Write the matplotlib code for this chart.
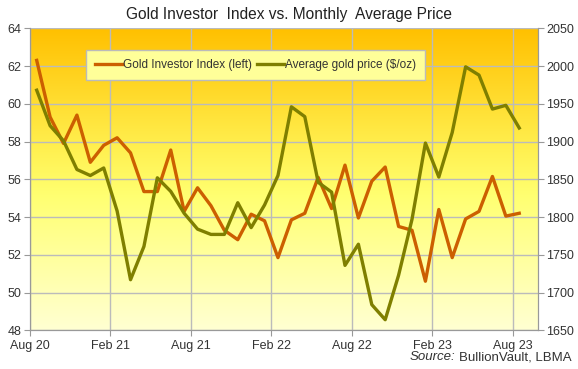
import numpy as np
import matplotlib
matplotlib.use("Agg")
import matplotlib.pyplot as plt
from matplotlib.colors import LinearSegmentedColormap

plt.rcParams["font.family"] = ["Liberation Sans", "DejaVu Sans"]

months = ["Aug 20", "Feb 21", "Aug 21", "Feb 22", "Aug 22", "Feb 23", "Aug 23"]
investor_index = [62.3, 59.3, 57.9, 59.4, 56.9, 57.8, 58.2, 57.4, 55.35, 55.35,
                  57.55, 54.3, 55.55, 54.6, 53.3, 52.8, 54.15, 53.8, 51.85, 53.85,
                  54.2, 56.1, 54.45, 56.75, 53.95, 55.9, 56.65, 53.5, 53.3, 50.6,
                  54.4, 51.85, 53.9, 54.3, 56.15, 54.05, 54.2]
gold_price = [1968, 1921, 1901, 1863, 1855, 1865, 1808, 1717, 1761, 1852,
              1834, 1805, 1784, 1777, 1777, 1819, 1786, 1816, 1855, 1946,
              1933, 1846, 1833, 1736, 1764, 1684, 1664, 1723, 1797, 1898,
              1853, 1912, 1999, 1988, 1943, 1948, 1918]

fig = plt.figure(figsize=(5.78, 3.69), dpi=100)
ax = fig.add_axes([30/578, 1-330.3/369, 508/578, 302/369])

x = np.arange(len(investor_index)) + 0.5

# gradient background
cmap = LinearSegmentedColormap.from_list("bg", [(0.0, "#FFFFD2"), (0.45, "#FFFF70"),
                                                  (0.6, "#FFF050"), (1.0, "#FFC000")])
grad = np.linspace(0, 1, 256).reshape(-1, 1)
ax.imshow(grad, cmap=cmap, aspect="auto", extent=[0, 1, 0, 1], origin="lower",
          transform=ax.transAxes, zorder=0)

ax.set_xlim(0, 37.9)
ax.set_ylim(48, 64)
ax.set_yticks(np.arange(48, 65, 2))
ax.set_xticks(np.arange(0, 37, 6))
ax.set_xticklabels(months)
ax.grid(True, color="#BBBBBB", linewidth=1.0, zorder=1)

l1, = ax.plot(x, investor_index, color="#CC5F00", linewidth=2.4, zorder=3,
              label="Gold Investor Index (left)")

ax2 = ax.twinx()
ax2.set_ylim(1650, 2050)
ax2.set_yticks(np.arange(1650, 2051, 50))
l2, = ax2.plot(x, gold_price, color="#7F7F00", linewidth=2.4, zorder=3,
               label="Average gold price ($/oz)")

for a in (ax, ax2):
    for s in a.spines.values():
        s.set_color("#999999")
    a.spines["top"].set_visible(False)
    a.tick_params(colors="#999999", labelcolor="#333333", labelsize=9,
                  direction="out", length=4, pad=2)
ax.tick_params(axis="x", pad=3)

leg = ax2.legend(handles=[l1, l2], loc="upper left", bbox_to_anchor=(0.110, 0.928),
                 ncol=2, frameon=True, fancybox=False, fontsize=8.5,
                 handlelength=2.3, handletextpad=0.1, columnspacing=0.4,
                 borderpad=0.75, borderaxespad=0)
leg.get_frame().set_facecolor("#FFFF99")
leg.get_frame().set_edgecolor("#BBBBBB")
leg.get_frame().set_alpha(1)
leg.set_zorder(5)
for t in leg.get_texts():
    t.set_color("#333333")

fig.text(0.5, 1-14/369, "Gold Investor  Index vs. Monthly  Average Price",
         ha="center", va="center", fontsize=11.2, color="#222222")

src = fig.text(572/578, 1-357/369, "BullionVault, LBMA", ha="right", va="center",
               fontsize=9.5, color="#333333")
fig.canvas.draw()
bb = src.get_window_extent()
fig.text((bb.x0 - 4) / fig.bbox.width, 1-357/369, "Source:", ha="right", va="center",
         fontsize=9.5, color="#333333", style="italic")

fig.savefig("out.png", dpi=100)
